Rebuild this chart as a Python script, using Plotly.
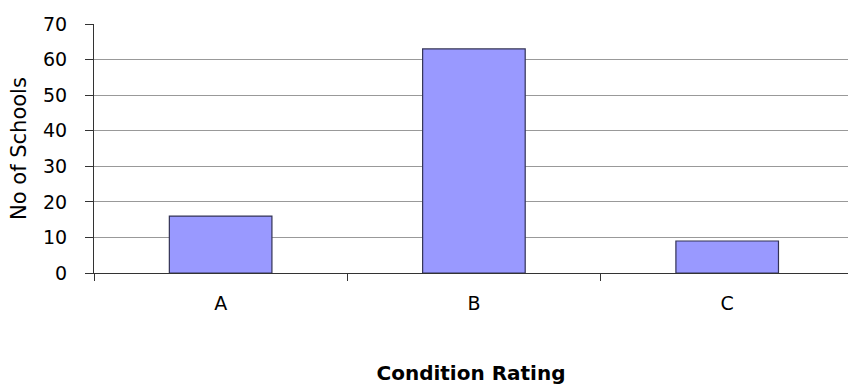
import plotly.graph_objects as go

categories = ["A", "B", "C"]
schools = [16, 63, 9]
y_ticks = [0, 10, 20, 30, 40, 50, 60, 70]

FONT = "DejaVu Sans, Arial, sans-serif"

fig = go.Figure(
    go.Bar(
        x=categories,
        y=schools,
        width=0.405,
        marker=dict(color="#9999FF", line=dict(color="#333355", width=1.2)),
    )
)

fig.update_layout(
    width=848,
    height=385,
    margin=dict(l=94, r=0, t=24, b=112),
    paper_bgcolor="white",
    plot_bgcolor="white",
    showlegend=False,
    font=dict(family=FONT, color="#000000"),
)

fig.update_xaxes(
    range=[-0.5, 2.477],
    showgrid=False,
    showline=True,
    linecolor="#333333",
    linewidth=1.2,
    ticks="outside",
    tickson="boundaries",
    ticklen=7,
    tickcolor="#333333",
    tickfont=dict(size=19),
    ticklabelstandoff=13,
    automargin=False,
    title=dict(
        text="<b>Condition Rating</b>",
        font=dict(size=20),
        standoff=54,
    ),
)

fig.update_yaxes(
    range=[0, 70],
    tickvals=y_ticks,
    showgrid=True,
    gridcolor="#999999",
    gridwidth=1.2,
    showline=True,
    linecolor="#333333",
    linewidth=1.2,
    ticks="outside",
    ticklen=8,
    tickcolor="#333333",
    tickfont=dict(size=19),
    ticklabelstandoff=14,
    automargin=False,
    title=dict(text="No of Schools", font=dict(size=21), standoff=10),
    zeroline=False,
)

fig.write_html("out.html")
